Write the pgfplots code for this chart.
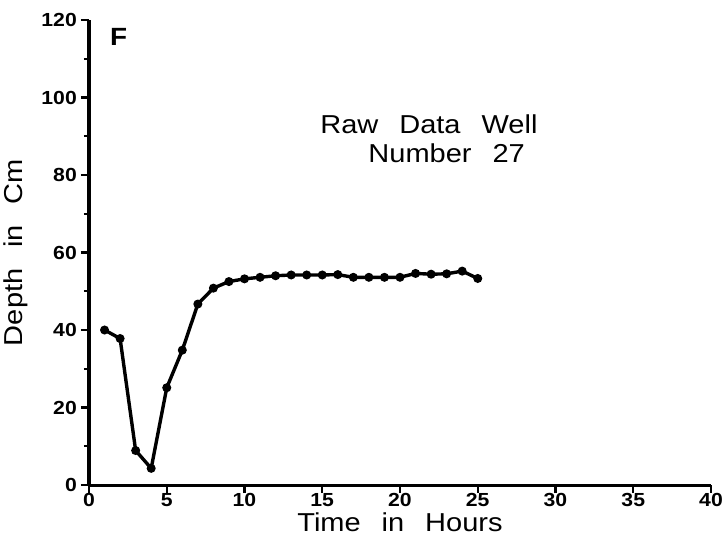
\documentclass[border=0pt]{standalone}
\usepackage{fontspec}
\setmainfont[WordSpace=2.6, FakeStretch=1.12]{Liberation Sans}
\usepackage{pgfplots}
\pgfplotsset{compat=1.18}
\begin{document}
\begin{tikzpicture}
\begin{axis}[
 at={(89bp,-485bp)}, anchor=south west,
 scale only axis, width=622bp, height=465bp,
 xmin=0, xmax=40, ymin=0, ymax=120,
 axis x line=bottom, axis y line=left,
 axis line style={-, line width=3bp},
 xtick={0,5,...,40}, ytick={0,20,...,120},
 minor ytick={10,30,...,110},
 tick align=outside,
 major tick length=8bp, minor tick length=5bp,
 every tick/.style={line width=2.4bp, black},
 /pgf/number format/assume math mode=true,
 xticklabel={\pgfmathprintnumber{\tick}},
 yticklabel={\pgfmathprintnumber{\tick}},
 ticklabel style={font=\fontsize{19}{19}\selectfont\bfseries},
 xticklabel style={inner sep=0.5bp},
 yticklabel style={inner sep=4bp},
 xlabel={Time in Hours}, ylabel={Depth in Cm},
 label style={font=\fontsize{26}{26}\selectfont},
 xlabel style={at={(axis description cs:0.5,0)}, anchor=base, yshift=-46bp, inner sep=1bp},
 ylabel style={yshift=6bp},
 clip=false,
]
\addplot[black, line width=3.4bp, mark=*, mark size=2.7bp] coordinates {
(1,40) (2,37.8) (3,8.9) (4,4.3) (5,25.1) (6,34.8) (7,46.7) (8,50.8) (9,52.5) (10,53.2)
(11,53.6) (12,54) (13,54.2) (14,54.2) (15,54.2) (16,54.3) (17,53.6) (18,53.6) (19,53.6) (20,53.6)
(21,54.6) (22,54.4) (23,54.5) (24,55.2) (25,53.3)};
\node[font=\fontsize{25}{25}\selectfont\bfseries] at (axis cs:1.9,115.7) {F};
\node[font=\fontsize{26}{26}\selectfont, anchor=base] at (axis cs:21.86,90.8) {Raw Data Well};
\node[font=\fontsize{26}{26}\selectfont, anchor=base] at (axis cs:23.0,83.1) {Number 27};
\end{axis}
\pgfresetboundingbox
\path (0,0) rectangle (724bp,-538bp);
\end{tikzpicture}
\end{document}
